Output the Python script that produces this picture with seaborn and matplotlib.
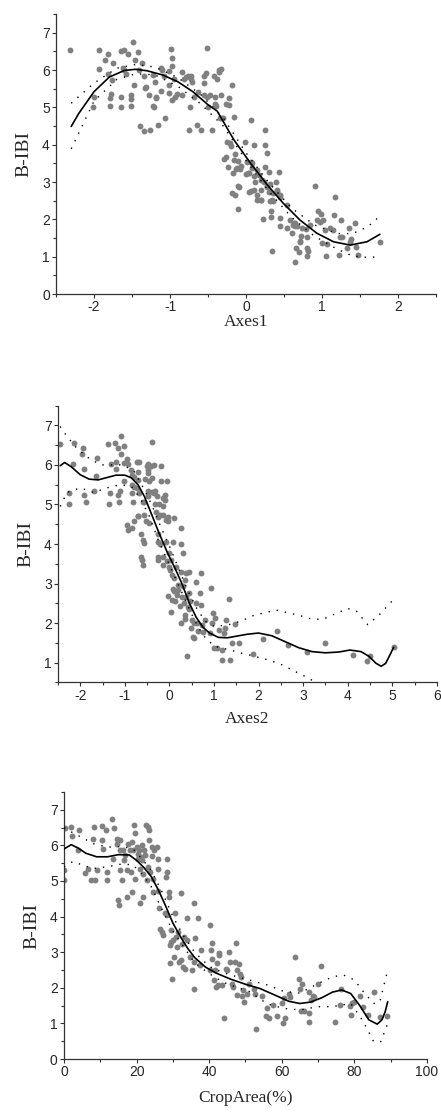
import matplotlib
matplotlib.use("Agg")
import matplotlib.pyplot as plt
import seaborn as sns
from matplotlib.ticker import MultipleLocator

# ---- panel 1 : Axes1 ----
p1_x = [-2.31, -1.94, -1.94, -2.0, -2.01, -1.86, -1.81, -1.82, -1.77, -1.78,
        -1.79, -1.79, -1.75, -1.65, -1.60, -1.55, -1.64, -1.65, -1.62, -1.60,
        -1.58, -1.52, -1.52, -1.52, -1.49, -1.46, -1.47, -1.42, -1.41, -1.39,
        -1.34, -1.37, -1.34, -1.33, -1.31, -1.28, -1.26, -1.23, -1.20, -1.19,
        -1.18, -1.21, -1.22, -1.16, -1.12, -1.11, -1.12, -1.08, -1.06, -1.02,
        -1.02, -1.02, -0.99, -0.97, -0.98, -0.98, -0.95, -0.93, -0.91, -0.84,
        -0.84, -0.81, -0.79, -0.77, -0.75, -0.73, -0.72, -0.74, -0.71, -0.69,
        -0.64, -0.63, -0.59, -0.56, -0.55, -0.55, -0.53, -0.51, -0.51, -0.50,
        -0.48, -0.45, -0.42, -0.41, -0.41, -0.40, -0.38, -0.36, -0.35, -0.34,
        -0.33, -0.33, -0.32, -0.30, -0.26, -0.23, -0.23, -0.19, -0.16, -0.29,
        -0.27, -0.25, -0.24, -0.21, -0.20, -0.18, -0.17, -0.15, -0.14, -0.13,
        -0.11, -0.11, -0.10, -0.09, -0.08, -0.07, -0.01, 0.0, 0.03, 0.04,
        0.06, 0.06, 0.08, 0.08, 0.10, 0.10, 0.11, 0.12, 0.14, 0.14,
        0.15, 0.19, 0.20, 0.22, 0.23, 0.25, 0.25, 0.25, 0.27, 0.28,
        0.30, 0.31, 0.32, 0.33, 0.33, 0.34, 0.35, 0.36, 0.39, 0.41,
        0.43, 0.44, 0.44, 0.45, 0.54, 0.54, 0.58, 0.61, 0.63, 0.64,
        0.65, 0.66, 0.69, 0.71, 0.72, 0.79, 0.80, 0.80, 0.82, 0.84,
        0.91, 0.93, 0.95, 0.97, 0.98, 1.0, 1.01, 1.04, 1.05, 1.06,
        1.11, 1.14, 1.15, 1.17, 1.22, 1.24, 1.25, 1.26, 1.33, 1.35,
        1.37, 1.38, 1.43, 1.44, 1.47, 1.76, -0.16, -0.12, 0.01, 0.04,
        0.17, 0.30, 0.06, 0.19, 0.27, 0.41, 0.19, 0.34, 0.45, 0.21,
        0.65, 0.67, 0.62, 0.80, 0.74, 0.71]
p1_y = [6.53, 6.54, 6.03, 5.29, 5.02, 6.27, 6.43, 5.90, 5.74, 5.36,
        5.25, 5.05, 6.18, 6.52, 6.54, 6.43, 5.29, 5.02, 6.05, 6.00,
        5.90, 5.33, 5.23, 5.04, 6.74, 6.27, 5.60, 6.48, 6.00, 4.49,
        4.37, 6.18, 5.83, 5.51, 5.54, 5.32, 4.40, 5.87, 5.67, 5.29,
        5.25, 5.02, 5.05, 4.53, 6.05, 6.00, 5.45, 5.83, 4.71, 5.97,
        5.60, 5.38, 6.56, 6.32, 6.11, 5.20, 5.75, 5.27, 5.35, 5.94,
        5.33, 5.75, 5.82, 5.84, 4.40, 5.84, 5.75, 5.02, 5.67, 5.29,
        4.53, 5.42, 4.40, 5.32, 5.65, 5.83, 5.93, 6.59, 5.29, 5.02,
        5.32, 4.40, 5.84, 5.29, 5.09, 5.04, 5.75, 6.00, 5.96, 4.71,
        5.33, 6.03, 4.71, 4.71, 5.09, 5.25, 5.07, 5.60, 4.73, 3.61,
        3.68, 4.08, 3.41, 4.04, 3.97, 2.70, 3.24, 2.64, 3.75, 3.36,
        2.28, 2.90, 3.57, 2.87, 3.35, 3.44, 4.08, 3.22, 3.24, 2.74,
        4.66, 3.53, 3.37, 3.50, 3.98, 3.15, 2.79, 3.01, 3.32, 2.64,
        2.52, 3.06, 2.52, 2.00, 3.01, 4.40, 3.98, 3.41, 2.90, 3.79,
        2.74, 2.50, 2.96, 2.23, 2.07, 1.16, 2.70, 2.50, 3.01, 2.74,
        3.28, 2.65, 2.03, 1.81, 1.78, 2.39, 1.98, 1.63, 1.91, 1.81,
        0.85, 1.22, 1.13, 1.43, 1.56, 1.73, 1.02, 1.22, 1.16, 1.85,
        2.90, 1.98, 2.23, 1.94, 2.14, 1.36, 1.98, 1.72, 1.03, 1.34,
        1.77, 1.72, 2.12, 2.61, 1.05, 1.54, 1.98, 1.54, 1.22, 1.76,
        1.40, 1.47, 1.89, 1.27, 1.05, 1.39, 3.59, 3.37, 3.55, 3.24,
        3.19, 3.28, 2.77, 2.79, 2.88, 2.79, 2.52, 2.52, 2.61, 3.06,
        1.91, 1.82, 1.85, 1.54, 1.76, 1.40]
fit1_x = [-2.3, -2.2, -2.0, -1.8, -1.6, -1.45, -1.3, -1.1, -0.9, -0.7,
          -0.5, -0.38, -0.16, 0.06, 0.28, 0.49, 0.71, 0.93, 1.15, 1.37,
          1.59, 1.76]
fit1_y = [4.49, 4.84, 5.42, 5.81, 5.99, 6.02, 5.98, 5.87, 5.69, 5.42,
          5.07, 4.90, 4.13, 3.50, 2.92, 2.43, 1.98, 1.63, 1.40, 1.31,
          1.40, 1.60]
up1_x = [-2.3, -2.0, -1.7, -1.45, -1.2, -0.9, -0.6, -0.3, 0.0, 0.3,
         0.6, 0.9, 1.2, 1.4, 1.6, 1.75]
up1_y = [5.11, 5.65, 6.05, 6.15, 6.08, 5.80, 5.35, 4.72, 3.78, 2.98,
         2.30, 1.85, 1.62, 1.62, 1.80, 2.07]
lo1_x = [-2.3, -2.0, -1.7, -1.45, -1.2, -0.9, -0.6, -0.3, 0.0, 0.3,
         0.6, 0.9, 1.2, 1.4, 1.6, 1.76]
lo1_y = [3.89, 5.17, 5.75, 5.90, 5.87, 5.57, 5.10, 4.50, 3.58, 2.75,
         2.05, 1.55, 1.20, 1.02, 0.98, 1.00]

# ---- panel 2 : Axes2 ----
p2_x = [-2.45, -2.13, -2.26, -2.26, -2.16, -1.93, -1.96, -1.92, -1.92, -1.87,
        -1.62, -1.64, -1.69, -1.38, -1.32, -1.33, -1.35, -1.22, -1.20, -1.19,
        -1.15, -1.15, -1.14, -1.09, -1.09, -1.11, -1.03, -1.03, -1.02, -0.96,
        -0.94, -0.96, -0.94, -0.87, -0.84, -0.84, -0.83, -0.82, -0.85, -0.79,
        -0.79, -0.79, -0.73, -0.71, -0.71, -0.71, -0.73, -0.69, -0.68, -0.70,
        -0.64, -0.60, -0.58, -0.64, -0.62, -0.60, -0.60, -0.58, -0.55, -0.56,
        -0.53, -0.50, -0.49, -0.49, -0.49, -0.49, -0.47, -0.46, -0.45, -0.38,
        -0.41, -0.40, -0.38, -0.35, -0.34, -0.32, -0.32, -0.30, -0.26, -0.28,
        -0.26, -0.25, -0.26, -0.25, -0.23, -0.22, -0.20, -0.19, -0.19, -0.15,
        -0.15, -0.14, -0.14, -0.14, -0.11, -0.10, -0.08, -0.08, -0.06, -0.04,
        -0.04, -0.06, -0.04, 0.0, 0.0, 0.02, 0.04, 0.05, 0.06, 0.04,
        0.08, 0.09, 0.11, 0.11, 0.11, 0.13, 0.15, 0.17, 0.19, 0.20,
        0.23, 0.25, 0.26, 0.26, 0.26, 0.28, 0.30, 0.30, 0.32, 0.34,
        0.34, 0.35, 0.38, 0.38, 0.39, 0.41, 0.43, 0.45, 0.45, 0.47,
        0.49, 0.50, 0.53, 0.55, 0.56, 0.59, 0.60, 0.62, 0.64, 0.68,
        0.70, 0.71, 0.74, 0.75, 0.79, 0.90, 0.93, 0.96, 0.98, 0.99,
        1.03, 1.07, 1.11, 1.17, 1.17, 1.23, 1.24, 1.28, 1.33, 1.36,
        1.41, 1.47, 1.56, 1.87, 2.09, 2.41, 2.67, 3.09, 3.50, 4.12,
        4.44, 4.50, 5.03]
p2_y = [6.53, 6.55, 5.30, 5.01, 6.02, 6.42, 6.27, 5.89, 5.24, 5.05,
        6.17, 5.73, 5.35, 6.53, 6.02, 5.30, 5.01, 6.55, 6.08, 5.89,
        6.42, 5.24, 5.05, 6.73, 6.27, 5.34, 6.47, 6.04, 5.60, 6.15,
        6.03, 4.48, 4.36, 5.86, 5.75, 5.49, 5.28, 5.05, 4.40, 5.69,
        5.45, 4.57, 6.08, 5.83, 5.62, 4.71, 5.41, 6.08, 5.28, 4.71,
        4.26, 4.10, 4.02, 3.68, 3.60, 3.47, 5.05, 5.07, 5.64, 4.74,
        4.57, 5.96, 6.03, 5.87, 5.35, 5.22, 5.79, 4.54, 5.60, 6.59,
        5.96, 5.32, 5.66, 5.28, 6.00, 5.35, 5.01, 4.82, 4.69, 5.22,
        4.26, 4.06, 3.68, 3.60, 5.02, 4.74, 4.00, 5.96, 5.58, 5.16,
        4.96, 4.74, 3.68, 3.47, 5.24, 5.11, 4.61, 4.06, 5.58, 4.69,
        4.57, 3.58, 2.69, 3.77, 3.43, 3.35, 3.60, 3.22, 2.59, 2.28,
        2.86, 4.06, 4.65, 3.14, 2.80, 2.55, 3.43, 2.72, 2.97, 2.84,
        2.44, 2.00, 4.40, 3.99, 3.30, 2.67, 3.77, 2.93, 2.50, 3.09,
        2.21, 2.10, 3.26, 2.67, 1.16, 2.42, 2.76, 2.35, 3.30, 2.55,
        1.87, 2.08, 1.66, 1.62, 2.00, 2.50, 3.05, 2.00, 1.79, 2.76,
        3.26, 2.46, 1.96, 1.77, 2.08, 1.75, 2.88, 2.00, 2.25, 1.36,
        2.13, 1.36, 1.83, 1.33, 1.06, 1.75, 1.87, 2.07, 2.61, 1.06,
        1.51, 1.97, 1.51, 1.22, 1.60, 1.79, 1.45, 1.26, 1.49, 1.20,
        1.05, 1.18, 1.39]
fit2_x = [-2.45, -2.35, -2.2, -2.0, -1.8, -1.6, -1.4, -1.2, -1.0, -0.85,
          -0.7, -0.56, -0.41, -0.23, -0.04, 0.12, 0.28, 0.45, 0.6, 0.75,
          0.9, 1.1, 1.3, 1.5, 1.75, 2.0, 2.3, 2.6, 2.9, 3.2,
          3.5, 3.8, 4.05, 4.3, 4.48, 4.63, 4.75, 4.85, 4.95, 5.03]
fit2_y = [5.98, 6.06, 5.95, 5.75, 5.64, 5.62, 5.68, 5.74, 5.74, 5.67,
          5.49, 5.20, 4.78, 4.27, 3.77, 3.40, 3.00, 2.50, 2.15, 1.90,
          1.75, 1.64, 1.63, 1.67, 1.72, 1.75, 1.68, 1.53, 1.38, 1.28,
          1.25, 1.27, 1.32, 1.28, 1.16, 0.99, 0.91, 0.98, 1.20, 1.39]
up2_x = [-2.45, -2.3, -2.1, -1.85, -1.55, -1.3, -1.05, -0.8, -0.6, -0.4,
         -0.2, 0.0, 0.2, 0.4, 0.6, 0.8, 1.0, 1.3, 1.6, 1.9,
         2.4, 2.9, 3.2, 3.45, 3.75, 4.0, 4.2, 4.45, 4.7, 5.03]
up2_y = [6.97, 6.72, 6.45, 6.20, 6.00, 6.00, 6.00, 5.85, 5.45, 5.00,
         4.45, 3.95, 3.40, 2.85, 2.40, 2.05, 1.92, 1.95, 2.05, 2.20,
         2.33, 2.20, 2.10, 2.10, 2.25, 2.37, 2.30, 1.96, 2.20, 2.60]
lo2_x = [-2.45, -2.3, -2.0, -1.7, -1.4, -1.1, -0.85, -0.65, -0.45, -0.25,
         -0.05, 0.15, 0.35, 0.55, 0.75, 1.0, 1.33, 1.62, 1.92, 2.22,
         2.52, 2.82, 3.12, 3.4]
lo2_y = [4.95, 5.30, 5.42, 5.30, 5.42, 5.50, 5.45, 5.15, 4.70, 4.10,
         3.60, 3.10, 2.60, 2.10, 1.70, 1.42, 1.33, 1.24, 1.16, 1.07,
         0.95, 0.78, 0.61, 0.42]

# ---- panel 3 : CropArea(%) ----
p3_x = [0.0, 0.0, 0.3, 1.8, 2.1, 4.1, 3.9, 5.8, 6.7, 7.4,
        7.9, 8.4, 8.6, 9.2, 10.4, 10.6, 10.8, 11.8, 11.6, 11.8,
        13.1, 13.8, 13.6, 14.5, 14.7, 15.0, 15.2, 15.4, 15.4, 15.4,
        16.2, 16.0, 16.4, 16.8, 17.3, 17.3, 17.7, 18.2, 18.4, 18.7,
        18.8, 19.4, 19.1, 19.6, 19.6, 20.0, 20.3, 20.5, 20.8, 21.0,
        21.0, 21.1, 21.4, 21.6, 21.9, 21.9, 22.1, 22.3, 22.5, 22.8,
        23.1, 23.1, 23.3, 23.4, 23.7, 24.2, 24.2, 24.4, 24.6, 24.8,
        25.6, 25.8, 25.8, 26.0, 26.3, 26.5, 26.9, 27.4, 27.8, 28.0,
        28.3, 28.5, 28.3, 28.8, 29.0, 29.2, 29.4, 29.7, 29.2, 29.4,
        30.1, 30.3, 30.6, 30.8, 31.1, 31.5, 31.8, 32.2, 32.3, 32.4,
        32.7, 33.1, 33.4, 33.8, 34.0, 34.7, 35.2, 35.7, 35.8, 35.9,
        36.1, 37.0, 37.5, 37.8, 40.1, 40.3, 40.4, 40.7, 40.9, 41.2,
        41.6, 41.9, 42.1, 42.3, 42.6, 42.8, 43.5, 44.1, 44.7, 45.0,
        45.6, 45.8, 46.2, 46.7, 47.2, 47.4, 47.6, 47.8, 48.3, 48.5,
        48.7, 49.0, 49.4, 49.6, 50.4, 51.1, 52.4, 52.7, 52.8, 54.5,
        55.9, 55.7, 56.6, 57.7, 58.6, 60.0, 60.3, 60.7, 60.9, 61.9,
        62.3, 63.7, 64.8, 65.1, 65.4, 65.7, 66.2, 67.4, 67.4, 67.6,
        68.0, 68.5, 68.9, 70.1, 70.8, 74.7, 76.1, 76.4, 78.9, 79.3,
        79.2, 80.0, 81.6, 82.4, 83.9, 85.3, 87.1, 89.0]
p3_y = [5.03, 5.31, 6.48, 6.52, 6.26, 6.43, 5.87, 5.23, 5.35, 5.04,
        6.17, 6.52, 5.03, 5.31, 6.54, 6.15, 5.91, 5.04, 6.43, 5.26,
        6.73, 6.48, 5.61, 6.17, 6.05, 4.48, 4.32, 6.15, 5.87, 5.31,
        5.87, 5.03, 5.59, 5.73, 4.55, 5.31, 6.05, 5.87, 5.26, 4.70,
        6.10, 6.57, 5.87, 6.34, 5.07, 5.96, 5.63, 5.77, 5.87, 4.39,
        5.35, 5.68, 6.00, 5.59, 4.55, 5.21, 5.87, 5.73, 6.57, 5.03,
        6.52, 5.40, 6.15, 6.43, 5.26, 5.96, 5.70, 5.07, 4.70, 5.87,
        5.96, 5.63, 5.35, 4.73, 4.23, 3.64, 3.57, 3.48, 4.09, 5.12,
        5.26, 5.61, 4.04, 4.56, 4.70, 3.20, 3.62, 2.26, 2.69, 3.29,
        3.34, 2.87, 4.09, 3.43, 3.14, 3.57, 2.73, 2.78, 4.65, 3.23,
        2.59, 3.43, 2.52, 3.34, 3.95, 2.87, 2.50, 2.73, 1.98, 4.39,
        3.39, 3.95, 2.64, 3.06, 3.76, 2.50, 3.06, 3.25, 2.80, 2.22,
        2.50, 2.03, 2.70, 2.08, 2.92, 2.97, 2.08, 1.14, 2.52, 2.50,
        3.01, 2.73, 2.10, 2.03, 2.73, 3.27, 2.50, 1.80, 2.67, 2.40,
        2.29, 1.77, 1.94, 1.61, 1.84, 2.12, 1.98, 1.84, 0.83, 1.77,
        1.42, 1.21, 1.14, 1.53, 1.21, 1.56, 1.00, 1.70, 1.14, 1.84,
        1.73, 2.87, 2.24, 1.98, 1.36, 2.12, 1.36, 1.30, 1.05, 1.89,
        1.66, 1.77, 1.73, 2.12, 2.61, 1.05, 1.52, 1.96, 1.49, 1.58,
        1.24, 1.61, 1.77, 1.47, 1.24, 1.89, 1.19, 1.21]
fit3_x = [0, 2, 4, 6, 9, 12, 15, 18, 20, 22,
          24, 26, 28, 30, 32, 34, 36, 39, 42, 46,
          50, 54, 58, 62, 65, 68, 71, 74, 76.5, 79,
          81.5, 84, 86.3, 87.6, 88.5, 89.2]
fit3_y = [5.90, 6.02, 5.92, 5.78, 5.68, 5.68, 5.74, 5.73, 5.58, 5.38,
          5.13, 4.75, 4.30, 3.82, 3.45, 3.12, 2.85, 2.58, 2.41, 2.24,
          2.10, 1.98, 1.80, 1.62, 1.56, 1.60, 1.72, 1.88, 1.94, 1.84,
          1.50, 1.10, 0.98, 1.10, 1.33, 1.61]
up3_x = [0, 2.5, 5, 8, 12, 16, 19, 21.5, 24, 27,
         30, 33, 36, 40, 44, 48, 51, 56, 60.5, 65,
         70, 74, 77, 80, 82.5, 85.3, 87, 89.2]
up3_y = [6.50, 6.35, 6.22, 6.05, 5.95, 5.97, 5.90, 5.62, 5.30, 4.70,
         4.00, 3.45, 3.00, 2.60, 2.42, 2.30, 2.22, 2.08, 1.90, 1.85,
         2.12, 2.31, 2.36, 2.22, 1.89, 1.56, 1.60, 2.50]
lo3_x = [0, 2.5, 5, 8, 12, 16, 19, 21.5, 24, 27,
         30, 33, 36, 40, 44, 48, 51, 56, 60.5, 65,
         70, 74, 79, 81.6, 83.5, 85.3, 87.3, 89.2]
lo3_y = [5.40, 5.55, 5.45, 5.35, 5.40, 5.48, 5.45, 5.20, 4.85, 4.20,
         3.60, 3.15, 2.70, 2.40, 2.15, 2.00, 1.90, 1.55, 1.42, 1.38,
         1.47, 1.47, 1.56, 1.19, 0.86, 0.49, 0.49, 1.00]

sns.set_theme(style="ticks")
plt.rcParams["font.family"] = ["Liberation Sans", "DejaVu Sans"]
plt.rcParams["axes.unicode_minus"] = False

fig = plt.figure(figsize=(4.41, 11.15), dpi=100)

ax1 = fig.add_axes([0.127, 0.7363, 0.862, 0.2511])
ax2 = fig.add_axes([0.1315, 0.3879, 0.859, 0.2484])
ax3 = fig.add_axes([0.1451, 0.0502, 0.823, 0.2395])


def panel(ax, px, py, fx, fy, ux, uy, lx, ly):
    sns.scatterplot(x=px, y=py, ax=ax, color="#808080", s=18, linewidth=0, zorder=2)
    sns.lineplot(x=ux, y=uy, ax=ax, color="black", linewidth=1.0,
                 linestyle=(0, (1, 5)), estimator=None, sort=False, zorder=3)
    sns.lineplot(x=lx, y=ly, ax=ax, color="black", linewidth=1.0,
                 linestyle=(0, (1, 5)), estimator=None, sort=False, zorder=3)
    sns.lineplot(x=fx, y=fy, ax=ax, color="black", linewidth=1.2,
                 estimator=None, sort=False, zorder=4)
    sns.despine(ax=ax)
    for s in ["left", "bottom"]:
        ax.spines[s].set_color("#333333")
        ax.spines[s].set_linewidth(0.9)
    ax.tick_params(which="major", length=3, width=0.8, color="#333333",
                   labelsize=10, pad=1.5)
    ax.tick_params(which="minor", length=2, width=0.8, color="#333333")
    ax.set_ylabel("B-IBI", family="Liberation Serif", fontsize=14, labelpad=7)


panel(ax1, p1_x, p1_y, fit1_x, fit1_y, up1_x, up1_y, lo1_x, lo1_y)
ax1.set_xlim(-2.5, 2.5)
ax1.set_ylim(0, 7.5)
ax1.xaxis.set_major_locator(MultipleLocator(1))
ax1.xaxis.set_minor_locator(MultipleLocator(0.5))
ax1.yaxis.set_major_locator(MultipleLocator(1))
ax1.yaxis.set_minor_locator(MultipleLocator(0.5))
ax1.set_xlabel("Axes1", family="Liberation Serif", fontsize=12.5, labelpad=0)

panel(ax2, p2_x, p2_y, fit2_x, fit2_y, up2_x, up2_y, lo2_x, lo2_y)
ax2.set_xlim(-2.5, 6)
ax2.set_ylim(0.5, 7.5)
ax2.xaxis.set_major_locator(MultipleLocator(1))
ax2.xaxis.set_minor_locator(MultipleLocator(0.5))
ax2.yaxis.set_major_locator(MultipleLocator(1))
ax2.yaxis.set_minor_locator(MultipleLocator(0.5))
ax2.set_xlabel("Axes2", family="Liberation Serif", fontsize=12.5, labelpad=6)

panel(ax3, p3_x, p3_y, fit3_x, fit3_y, up3_x, up3_y, lo3_x, lo3_y)
ax3.set_xlim(0, 100)
ax3.set_ylim(0, 7.5)
ax3.xaxis.set_major_locator(MultipleLocator(20))
ax3.xaxis.set_minor_locator(MultipleLocator(10))
ax3.yaxis.set_major_locator(MultipleLocator(1))
ax3.yaxis.set_minor_locator(MultipleLocator(0.5))
ax3.set_xlabel("CropArea(%)", family="Liberation Serif", fontsize=12.5, labelpad=7.5)

fig.savefig("out.png", dpi=100)
